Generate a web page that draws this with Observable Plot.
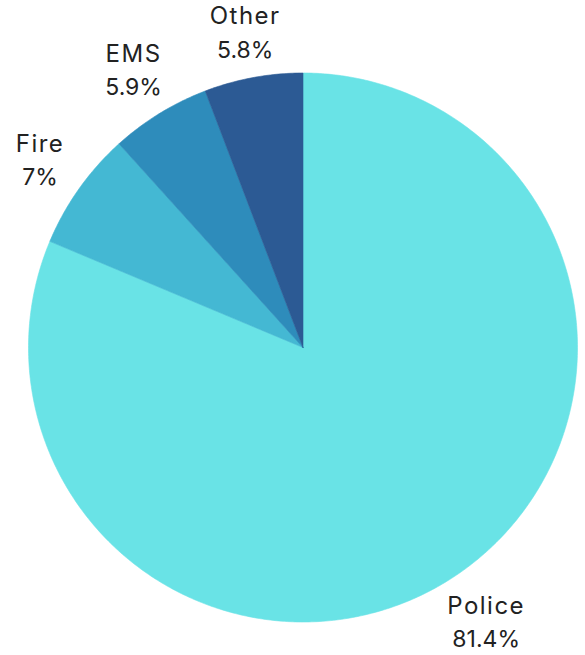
<!DOCTYPE html>
<html>
<head>
<meta charset="utf-8">
<script src="https://cdn.jsdelivr.net/npm/d3@7"></script>
<script src="https://cdn.jsdelivr.net/npm/@observablehq/plot@0.6"></script>
<style>
  html, body { margin: 0; padding: 0; background: #fff; }
  #chart svg { display: block; }
</style>
</head>
<body>
<div id="chart"></div>
<script>
const categories = ["Police", "Fire", "EMS", "Other"];
const values = [81.4, 7, 5.9, 5.8];
const labels = ["81.4%", "7%", "5.9%", "5.8%"];
const colors = ["#69e3e6", "#44b8d3", "#2e8cbb", "#2c5a94"];

const W = 585, H = 655;
const cx = 302.5, cy = 347, R = 274.5;
const FONT = "Inter, 'Noto Sans', sans-serif";
const nameSize = 24, nameSpacing = 1.5, valueSize = 23;
const gap = 13, halfH = 26;

const arcs = d3.pie().sort(null).value(d => d.value).startAngle(0).endAngle(2 * Math.PI)(
  categories.map((c, i) => ({category: c, value: values[i], label: labels[i]}))
);

const pts = [];
for (const a of arcs) {
  const n = Math.max(4, Math.ceil((a.endAngle - a.startAngle) / 0.01));
  pts.push({category: a.data.category, x: 0, y: 0});
  for (let k = 0; k <= n; k++) {
    const t = a.startAngle + (a.endAngle - a.startAngle) * k / n;
    pts.push({category: a.data.category, x: Math.sin(t), y: Math.cos(t)});
  }
  pts.push({category: a.data.category, x: 0, y: 0});
}

const ctx = document.createElement("canvas").getContext("2d");
function textWidth(s, size, spacing) {
  ctx.font = `${size}px Inter`;
  return ctx.measureText(s).width + spacing * s.length;
}

const labelData = arcs.map(a => {
  const m = (a.startAngle + a.endAngle) / 2;
  const sx = Math.sin(m), sy = Math.cos(m);
  const halfW = Math.max(textWidth(a.data.category, nameSize, nameSpacing), textWidth(a.data.label, valueSize, 0)) / 2;
  const ext = Math.abs(sx) * halfW + Math.abs(sy) * halfH;
  const r = (R + gap + ext) / R;
  return {category: a.data.category, value: a.data.label, x: sx * r, y: sy * r};
});

const chart = Plot.plot({
  width: W,
  height: H,
  margin: 0,
  x: {domain: [-cx / R, (W - cx) / R], axis: null},
  y: {domain: [-(H - cy) / R, cy / R], axis: null},
  color: {domain: categories, range: colors},
  style: {fontFamily: FONT, background: "#fff"},
  marks: [
    Plot.line(pts, {x: "x", y: "y", z: "category", fill: "category", stroke: "category", strokeWidth: 0.6, curve: "linear"}),
    Plot.text(labelData, {x: "x", y: "y", text: "category", dy: -16.5, fontSize: nameSize, fill: "#222", textAnchor: "middle", lineAnchor: "middle", style: `letter-spacing:${nameSpacing}px`}),
    Plot.text(labelData, {x: "x", y: "y", text: "value", dy: 17, fontSize: valueSize, fill: "#222", textAnchor: "middle", lineAnchor: "middle"})
  ]
});

chart.querySelectorAll("g[aria-label=text]").forEach((g, i) => {
  if (i === 0) g.style.letterSpacing = nameSpacing + "px";
});

document.getElementById("chart").appendChild(chart);
</script>
</body>
</html>
